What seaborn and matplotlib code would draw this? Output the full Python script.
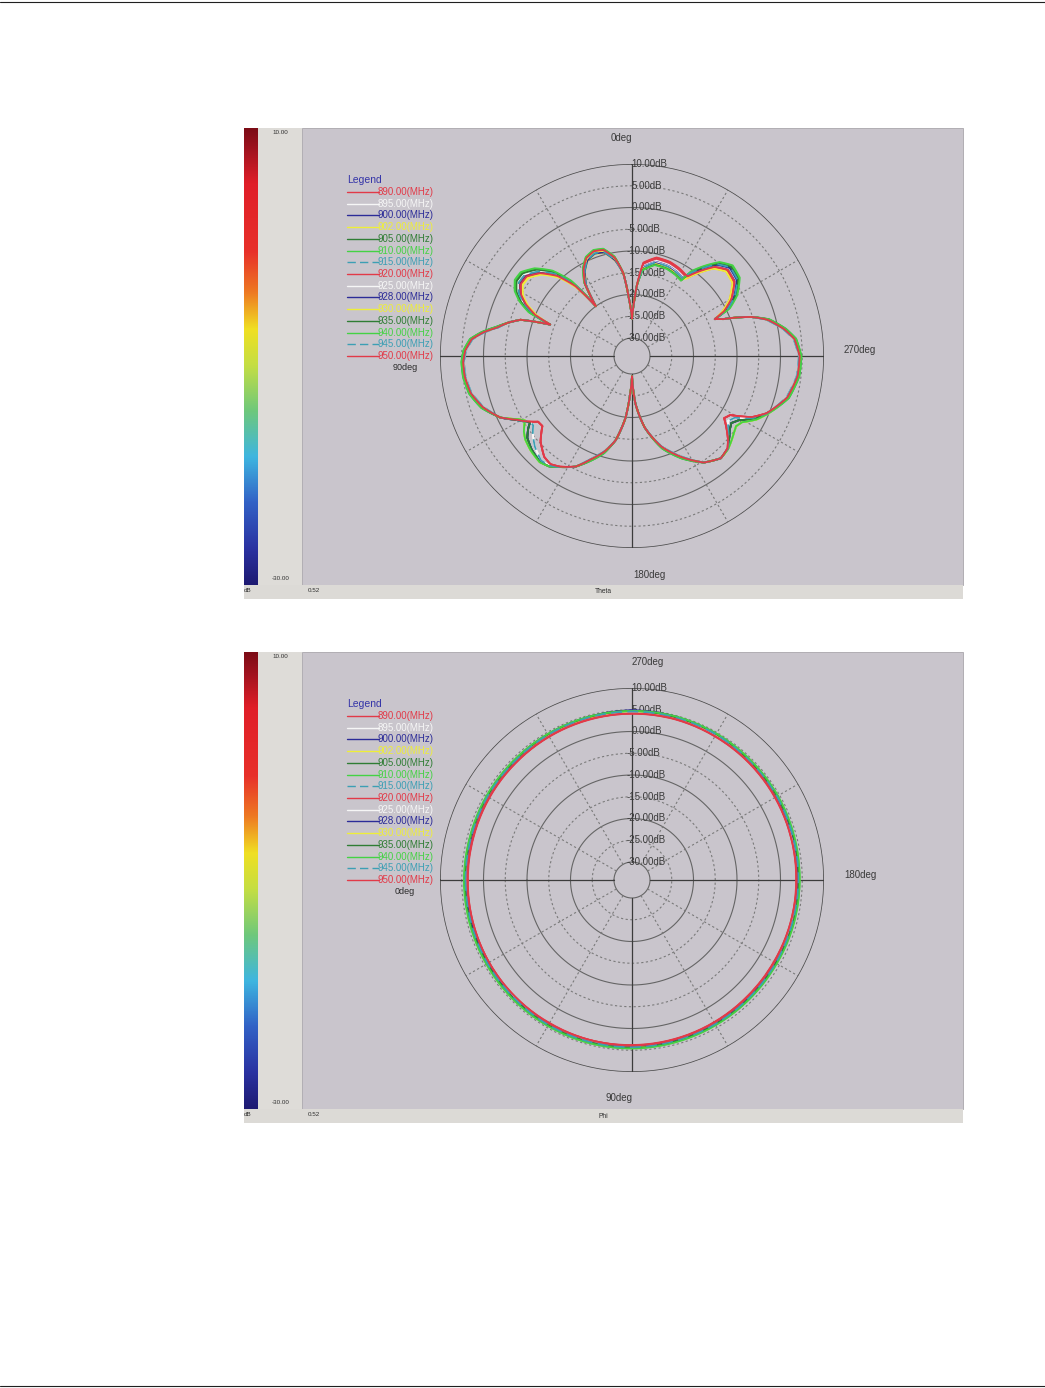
import numpy as np
import pandas as pd
import matplotlib
matplotlib.use("Agg")
import matplotlib.pyplot as plt
from matplotlib.patches import Rectangle
from matplotlib.lines import Line2D
from matplotlib.colors import LinearSegmentedColormap
import seaborn as sns

sns.set_style("white")
plt.rcParams['font.family'] = ['Liberation Sans', 'DejaVu Sans']

W, H = 1045, 1388

# ---------------- data ----------------
freq_labels = ["890.00(MHz)", "895.00(MHz)", "900.00(MHz)", "902.00(MHz)", "905.00(MHz)",
               "910.00(MHz)", "915.00(MHz)", "920.00(MHz)", "925.00(MHz)", "928.00(MHz)",
               "930.00(MHz)", "935.00(MHz)", "940.00(MHz)", "945.00(MHz)", "950.00(MHz)"]

RED, WHITE, NAVY, YELLOW = "#e23a48", "#f6f6f6", "#2c2c98", "#eeee38"
DGREEN, GREEN, TEAL = "#2f7d34", "#44d244", "#3c9fb4"
series_colors = [RED, WHITE, NAVY, YELLOW, DGREEN, GREEN, TEAL,
                 RED, WHITE, NAVY, YELLOW, DGREEN, GREEN, TEAL, RED]
series_dashed = [False, False, False, False, False, False, True,
                 False, False, False, False, False, False, True, False]

theta_deg = [0, 3, 6, 10, 15, 20, 25, 29, 33, 36, 39, 43, 48, 53, 57, 61, 64, 67, 69, 72,
             75, 78, 81, 84, 88, 92, 97, 103, 109, 115, 119, 121, 123, 125, 128, 133, 139, 143, 147, 153,
             158, 164, 169, 174, 177, 180, 184, 190, 198, 206, 214, 221, 226, 229, 233, 236, 239, 243, 247, 255,
             263, 270, 276, 280, 285, 288, 290, 292, 294, 296, 300, 306, 312, 317, 321, 325, 327, 332, 338, 346,
             353, 356, 358, 360]

theta_db_890 = [-25.5, -21.0, -15.0, -11.2, -8.9, -8.5, -9.3, -11.2, -14.2, -20.0, -13.6, -9.1, -5.8, -3.9, -3.8, -5.1, -7.1, -10.1, -14.0, -7.2, -4.6, -2.3, 0.7, 3.1, 4.4, 4.9, 4.8, 4.1, 2.3, -0.7, -3.9, -5.1, -6.4, -7.8, -8.0, -5.4, -3.4, -3.0, -3.8, -5.6, -8.2, -11.1, -14.4, -19.8, -25.0, -29.5, -23.3, -17.5, -12.0, -8.1, -4.6, -3.0, -3.6, -4.9, -7.0, -8.6, -7.8, -3.2, -0.5, 3.0, 4.4, 4.6, 3.6, 1.6, -1.7, -5.1, -8.2, -11.5, -13.3, -11.1, -8.2, -5.5, -5.0, -6.6, -9.4, -12.3, -11.8, -11.3, -10.9, -10.9, -12.6, -17.8, -22.0, -25.5]
theta_db_895 = [-25.5, -21.0, -15.0, -11.5, -9.2, -8.8, -9.6, -11.5, -14.5, -20.0, -13.3, -8.8, -5.5, -3.6, -3.5, -4.8, -6.8, -9.8, -14.0, -7.2, -4.6, -2.2, 0.8, 3.2, 4.5, 5.0, 4.9, 4.2, 2.4, -0.7, -3.8, -5.0, -6.3, -6.4, -5.2, -3.6, -2.3, -2.6, -3.7, -5.6, -8.1, -11.0, -14.4, -19.8, -25.0, -29.5, -23.3, -17.5, -11.9, -8.0, -4.6, -3.0, -3.5, -4.7, -6.5, -7.5, -6.6, -2.8, -0.4, 3.1, 4.5, 4.7, 3.7, 1.7, -1.6, -5.1, -8.2, -11.5, -13.3, -10.7, -7.8, -5.1, -4.6, -6.2, -9.0, -11.9, -12.5, -12.0, -11.6, -11.6, -13.3, -17.8, -22.0, -25.5]
theta_db_900 = [-25.5, -21.0, -15.0, -11.7, -9.4, -9.0, -9.8, -11.7, -14.7, -20.0, -13.0, -8.5, -5.2, -3.3, -3.2, -4.5, -6.5, -9.5, -14.0, -7.2, -4.6, -2.6, 0.4, 2.8, 4.1, 4.6, 4.5, 3.8, 2.0, -0.7, -3.8, -5.0, -6.2, -5.0, -3.6, -2.6, -1.9, -2.4, -3.7, -5.6, -8.5, -11.4, -14.4, -19.8, -25.0, -29.5, -23.3, -17.5, -12.3, -8.4, -4.6, -3.0, -3.5, -4.6, -6.0, -6.6, -5.5, -2.5, -0.4, 2.7, 4.1, 4.3, 3.3, 1.3, -2.0, -5.1, -8.2, -11.5, -13.3, -10.5, -7.6, -4.9, -4.4, -6.0, -8.8, -11.7, -12.7, -12.2, -11.8, -11.8, -13.5, -17.8, -22.0, -25.5]
theta_db_902 = [-25.5, -21.0, -15.0, -11.9, -9.6, -9.2, -10.0, -11.9, -14.9, -20.0, -13.8, -9.3, -6.0, -4.1, -4.0, -5.3, -7.3, -10.3, -14.0, -7.2, -4.6, -2.3, 0.7, 3.1, 4.4, 4.9, 4.8, 4.1, 2.3, -0.7, -4.2, -5.4, -4.6, -3.8, -3.0, -2.3, -1.8, -2.4, -3.7, -5.6, -8.2, -11.1, -14.4, -19.8, -25.0, -29.5, -23.3, -17.5, -12.0, -8.1, -4.6, -3.0, -3.4, -4.0, -4.8, -5.3, -4.6, -2.0, -0.2, 3.0, 4.4, 4.6, 3.6, 1.6, -1.7, -5.1, -8.2, -11.5, -13.3, -10.9, -8.0, -5.3, -4.8, -6.4, -9.2, -12.1, -13.0, -12.5, -12.1, -12.1, -13.8, -17.8, -22.0, -25.5]
theta_db_905 = [-25.5, -21.0, -15.0, -11.3, -9.0, -8.6, -9.4, -11.3, -14.3, -20.0, -12.5, -8.0, -4.7, -2.8, -2.7, -4.0, -6.0, -9.0, -14.0, -7.2, -4.6, -2.5, 0.5, 2.9, 4.2, 4.7, 4.6, 3.9, 2.1, -0.7, -3.8, -5.0, -6.2, -5.0, -3.6, -2.6, -1.9, -2.4, -3.7, -5.6, -8.4, -11.3, -14.4, -19.8, -25.0, -29.5, -23.3, -17.5, -12.2, -8.3, -4.6, -3.0, -3.5, -4.6, -6.0, -6.6, -5.5, -2.5, -0.4, 2.8, 4.2, 4.4, 3.4, 1.4, -1.9, -5.1, -8.2, -11.5, -13.3, -9.9, -7.0, -4.3, -3.8, -5.4, -8.2, -11.1, -13.2, -12.7, -12.3, -12.3, -14.0, -17.8, -22.0, -25.5]
theta_db_910 = [-25.5, -21.0, -15.0, -11.0, -8.7, -8.3, -9.1, -11.0, -14.0, -20.0, -12.0, -7.5, -4.2, -2.3, -2.2, -3.5, -5.5, -8.5, -14.0, -7.2, -4.6, -2.1, 0.9, 3.3, 4.6, 5.1, 5.0, 4.3, 2.5, -0.7, -4.2, -5.4, -4.6, -3.8, -3.0, -2.3, -1.8, -2.4, -3.7, -5.6, -8.0, -10.9, -14.4, -19.8, -25.0, -29.5, -23.3, -17.5, -11.8, -7.9, -4.6, -3.0, -3.4, -4.0, -4.8, -5.3, -4.6, -2.0, -0.2, 3.2, 4.6, 4.8, 3.8, 1.8, -1.5, -5.1, -8.2, -11.5, -13.3, -9.3, -6.4, -3.7, -3.2, -4.8, -7.6, -10.5, -13.3, -12.8, -12.4, -12.4, -14.1, -17.8, -22.0, -25.5]
theta_db_915 = [-25.5, -21.0, -15.0, -11.5, -9.2, -8.8, -9.6, -11.5, -14.5, -20.0, -12.8, -8.3, -5.0, -3.1, -3.0, -4.3, -6.3, -9.3, -14.0, -7.2, -4.6, -2.7, 0.3, 2.7, 4.0, 4.5, 4.4, 3.7, 1.9, -0.7, -3.8, -5.0, -6.2, -5.0, -3.6, -2.6, -1.9, -2.4, -3.7, -5.6, -8.6, -11.5, -14.4, -19.8, -25.0, -29.5, -23.3, -17.5, -12.4, -8.5, -4.6, -3.0, -3.5, -4.6, -6.0, -6.6, -5.5, -2.5, -0.4, 2.6, 4.0, 4.2, 3.2, 1.2, -2.1, -5.1, -8.2, -11.5, -13.3, -10.3, -7.4, -4.7, -4.2, -5.8, -8.6, -11.5, -13.0, -12.5, -12.1, -12.1, -13.8, -17.8, -22.0, -25.5]
theta_db_920 = [-25.5, -21.0, -15.0, -11.3, -9.0, -8.6, -9.4, -11.3, -14.3, -20.0, -13.2, -8.7, -5.4, -3.5, -3.4, -4.7, -6.7, -9.7, -14.0, -7.2, -4.6, -2.3, 0.7, 3.1, 4.4, 4.9, 4.8, 4.1, 2.3, -0.7, -3.9, -5.1, -6.4, -7.8, -8.0, -5.4, -3.4, -3.0, -3.8, -5.6, -8.2, -11.1, -14.4, -19.8, -25.0, -29.5, -23.3, -17.5, -12.0, -8.1, -4.6, -3.0, -3.6, -4.9, -7.0, -8.6, -7.8, -3.2, -0.5, 3.0, 4.4, 4.6, 3.6, 1.6, -1.7, -5.1, -8.2, -11.5, -13.3, -10.8, -7.9, -5.2, -4.7, -6.3, -9.1, -12.0, -12.0, -11.5, -11.1, -11.1, -12.8, -17.8, -22.0, -25.5]
theta_db_925 = [-25.5, -21.0, -15.0, -11.6, -9.3, -8.9, -9.7, -11.6, -14.6, -20.0, -12.7, -8.2, -4.9, -3.0, -2.9, -4.2, -6.2, -9.2, -14.0, -7.2, -4.6, -2.6, 0.4, 2.8, 4.1, 4.6, 4.5, 3.8, 2.0, -0.7, -3.8, -5.0, -6.3, -6.4, -5.2, -3.6, -2.3, -2.6, -3.7, -5.6, -8.5, -11.4, -14.4, -19.8, -25.0, -29.5, -23.3, -17.5, -12.3, -8.4, -4.6, -3.0, -3.5, -4.7, -6.5, -7.5, -6.6, -2.8, -0.4, 2.7, 4.1, 4.3, 3.3, 1.3, -2.0, -5.1, -8.2, -11.5, -13.3, -10.1, -7.2, -4.5, -4.0, -5.6, -8.4, -11.3, -12.8, -12.3, -11.9, -11.9, -13.6, -17.8, -22.0, -25.5]
theta_db_928 = [-25.5, -21.0, -15.0, -11.8, -9.5, -9.1, -9.9, -11.8, -14.8, -20.0, -13.4, -8.9, -5.6, -3.7, -3.6, -4.9, -6.9, -9.9, -14.0, -7.2, -4.6, -2.2, 0.8, 3.2, 4.5, 5.0, 4.9, 4.2, 2.4, -0.7, -3.8, -5.0, -6.2, -5.0, -3.6, -2.6, -1.9, -2.4, -3.7, -5.6, -8.1, -11.0, -14.4, -19.8, -25.0, -29.5, -23.3, -17.5, -11.9, -8.0, -4.6, -3.0, -3.5, -4.6, -6.0, -6.6, -5.5, -2.5, -0.4, 3.1, 4.5, 4.7, 3.7, 1.7, -1.6, -5.1, -8.2, -11.5, -13.3, -10.0, -7.1, -4.4, -3.9, -5.5, -8.3, -11.2, -13.0, -12.5, -12.1, -12.1, -13.8, -17.8, -22.0, -25.5]
theta_db_930 = [-25.5, -21.0, -15.0, -11.4, -9.1, -8.7, -9.5, -11.4, -14.4, -20.0, -14.0, -9.5, -6.2, -4.3, -4.2, -5.5, -7.5, -10.5, -14.0, -7.2, -4.6, -2.4, 0.6, 3.0, 4.3, 4.8, 4.7, 4.0, 2.2, -0.7, -4.2, -5.4, -4.6, -3.8, -3.0, -2.3, -1.8, -2.4, -3.7, -5.6, -8.3, -11.2, -14.4, -19.8, -25.0, -29.5, -23.3, -17.5, -12.1, -8.2, -4.6, -3.0, -3.4, -4.0, -4.8, -5.3, -4.6, -2.0, -0.2, 2.9, 4.3, 4.5, 3.5, 1.5, -1.8, -5.1, -8.2, -11.5, -13.3, -11.2, -8.3, -5.6, -5.1, -6.7, -9.5, -12.4, -13.2, -12.7, -12.3, -12.3, -14.0, -17.8, -22.0, -25.5]
theta_db_935 = [-25.5, -21.0, -15.0, -11.1, -8.8, -8.4, -9.2, -11.1, -14.1, -20.0, -12.3, -7.8, -4.5, -2.6, -2.5, -3.8, -5.8, -8.8, -14.0, -7.2, -4.6, -2.5, 0.5, 2.9, 4.2, 4.7, 4.6, 3.9, 2.1, -0.7, -3.8, -5.0, -6.2, -5.0, -3.6, -2.6, -1.9, -2.4, -3.7, -5.6, -8.4, -11.3, -14.4, -19.8, -25.0, -29.5, -23.3, -17.5, -12.2, -8.3, -4.6, -3.0, -3.5, -4.6, -6.0, -6.6, -5.5, -2.5, -0.4, 2.8, 4.2, 4.4, 3.4, 1.4, -1.9, -5.1, -8.2, -11.5, -13.3, -9.6, -6.7, -4.0, -3.5, -5.1, -7.9, -10.8, -13.4, -12.9, -12.5, -12.5, -14.2, -17.8, -22.0, -25.5]
theta_db_940 = [-25.5, -21.0, -15.0, -10.9, -8.6, -8.2, -9.0, -10.9, -13.9, -20.0, -11.8, -7.3, -4.0, -2.1, -2.0, -3.3, -5.3, -8.3, -14.0, -7.2, -4.6, -2.1, 0.9, 3.3, 4.6, 5.1, 5.0, 4.3, 2.5, -0.7, -4.2, -5.4, -4.6, -3.8, -3.0, -2.3, -1.8, -2.4, -3.7, -5.6, -8.0, -10.9, -14.4, -19.8, -25.0, -29.5, -23.3, -17.5, -11.8, -7.9, -4.6, -3.0, -3.4, -4.0, -4.8, -5.3, -4.6, -2.0, -0.2, 3.2, 4.6, 4.8, 3.8, 1.8, -1.5, -5.1, -8.2, -11.5, -13.3, -9.1, -6.2, -3.5, -3.0, -4.6, -7.4, -10.3, -13.5, -13.0, -12.6, -12.6, -14.3, -17.8, -22.0, -25.5]
theta_db_945 = [-25.5, -21.0, -15.0, -11.7, -9.4, -9.0, -9.8, -11.7, -14.7, -20.0, -12.9, -8.4, -5.1, -3.2, -3.1, -4.4, -6.4, -9.4, -14.0, -7.2, -4.6, -2.6, 0.4, 2.8, 4.1, 4.6, 4.5, 3.8, 2.0, -0.7, -3.8, -5.0, -6.3, -6.4, -5.2, -3.6, -2.3, -2.6, -3.7, -5.6, -8.5, -11.4, -14.4, -19.8, -25.0, -29.5, -23.3, -17.5, -12.3, -8.4, -4.6, -3.0, -3.5, -4.7, -6.5, -7.5, -6.6, -2.8, -0.4, 2.7, 4.1, 4.3, 3.3, 1.3, -2.0, -5.1, -8.2, -11.5, -13.3, -9.8, -6.9, -4.2, -3.7, -5.3, -8.1, -11.0, -12.9, -12.4, -12.0, -12.0, -13.7, -17.8, -22.0, -25.5]
theta_db_950 = [-25.5, -21.0, -15.0, -11.2, -8.9, -8.5, -9.3, -11.2, -14.2, -20.0, -13.5, -9.0, -5.7, -3.8, -3.7, -5.0, -7.0, -10.0, -14.0, -7.2, -4.6, -2.5, 0.5, 2.9, 4.2, 4.7, 4.6, 3.9, 2.1, -0.7, -3.9, -5.1, -6.4, -7.8, -8.0, -5.4, -3.4, -3.0, -3.8, -5.6, -8.4, -11.3, -14.4, -19.8, -25.0, -29.5, -23.3, -17.5, -12.2, -8.3, -4.6, -3.0, -3.6, -4.9, -7.0, -8.6, -7.8, -3.2, -0.5, 2.8, 4.2, 4.4, 3.4, 1.4, -1.9, -5.1, -8.2, -11.5, -13.3, -10.6, -7.7, -5.0, -4.5, -6.1, -8.9, -11.8, -11.7, -11.2, -10.8, -10.8, -12.5, -17.8, -22.0, -25.5]

phi_deg = [0, 15, 30, 45, 60, 75, 90, 105, 120, 135, 150, 165, 180, 195, 210, 225, 240, 255,
           270, 285, 300, 315, 330, 345, 360]

phi_db_890 = [3.6, 3.7, 3.8, 3.9, 3.8, 3.9, 3.8, 3.7, 3.6, 3.5, 3.5, 3.6, 3.6, 3.7, 3.8, 3.9, 4.0, 4.1, 4.1, 4.0, 3.9, 3.8, 3.7, 3.6, 3.6]
phi_db_895 = [4.2, 4.3, 4.2, 4.4, 4.3, 4.4, 4.3, 4.2, 4.2, 4.0, 4.1, 4.1, 4.2, 4.2, 4.4, 4.4, 4.6, 4.6, 4.7, 4.5, 4.5, 4.3, 4.3, 4.1, 4.2]
phi_db_900 = [4.0, 4.1, 4.2, 4.2, 4.3, 4.2, 4.3, 4.1, 4.1, 3.9, 4.0, 4.0, 4.1, 4.1, 4.3, 4.3, 4.5, 4.7, 4.8, 4.6, 4.4, 4.3, 4.1, 4.1, 4.0]
phi_db_902 = [4.3, 4.3, 4.4, 4.4, 4.5, 4.4, 4.4, 4.3, 4.2, 4.2, 4.1, 4.3, 4.3, 4.3, 4.4, 4.5, 4.5, 4.6, 4.6, 4.6, 4.4, 4.4, 4.3, 4.2, 4.3]
phi_db_905 = [4.2, 4.2, 4.3, 4.3, 4.4, 4.3, 4.4, 4.2, 4.2, 4.1, 4.0, 4.2, 4.1, 4.3, 4.3, 4.5, 4.5, 4.7, 4.6, 4.6, 4.5, 4.3, 4.3, 4.2, 4.2]
phi_db_910 = [4.4, 4.4, 4.5, 4.5, 4.5, 4.6, 4.5, 4.4, 4.3, 4.3, 4.2, 4.3, 4.4, 4.4, 4.5, 4.6, 4.7, 4.7, 4.7, 4.6, 4.6, 4.5, 4.4, 4.4, 4.4]
phi_db_915 = [4.1, 4.2, 4.1, 4.3, 4.2, 4.3, 4.2, 4.2, 4.0, 4.0, 3.9, 4.1, 4.0, 4.2, 4.2, 4.4, 4.4, 4.6, 4.5, 4.5, 4.3, 4.3, 4.1, 4.1, 4.1]
phi_db_920 = [3.7, 3.8, 3.8, 3.9, 4.0, 3.9, 3.9, 3.8, 3.7, 3.6, 3.6, 3.7, 3.7, 3.8, 3.9, 4.0, 4.1, 4.2, 4.2, 4.1, 4.0, 3.9, 3.8, 3.7, 3.7]
phi_db_925 = [4.1, 4.2, 4.3, 4.2, 4.4, 4.3, 4.3, 4.3, 4.1, 4.1, 4.0, 4.0, 4.2, 4.1, 4.3, 4.4, 4.5, 4.5, 4.6, 4.5, 4.4, 4.4, 4.2, 4.2, 4.1]
phi_db_928 = [4.2, 4.1, 4.2, 4.3, 4.3, 4.4, 4.2, 4.2, 4.1, 4.0, 4.0, 4.1, 4.1, 4.2, 4.2, 4.4, 4.6, 4.7, 4.9, 4.6, 4.5, 4.3, 4.2, 4.1, 4.2]
phi_db_930 = [4.3, 4.4, 4.4, 4.5, 4.4, 4.5, 4.4, 4.4, 4.3, 4.2, 4.2, 4.2, 4.3, 4.4, 4.4, 4.5, 4.6, 4.6, 4.7, 4.5, 4.5, 4.4, 4.3, 4.3, 4.3]
phi_db_935 = [4.3, 4.3, 4.3, 4.4, 4.4, 4.4, 4.5, 4.3, 4.2, 4.2, 4.1, 4.2, 4.2, 4.3, 4.4, 4.4, 4.6, 4.6, 4.7, 4.6, 4.5, 4.4, 4.3, 4.3, 4.3]
phi_db_940 = [4.5, 4.5, 4.5, 4.6, 4.6, 4.6, 4.6, 4.5, 4.4, 4.3, 4.3, 4.4, 4.4, 4.5, 4.6, 4.6, 4.7, 4.8, 4.7, 4.7, 4.6, 4.5, 4.5, 4.4, 4.5]
phi_db_945 = [4.1, 4.1, 4.2, 4.2, 4.3, 4.3, 4.3, 4.1, 4.1, 4.0, 4.0, 4.0, 4.1, 4.2, 4.3, 4.3, 4.5, 4.5, 4.6, 4.5, 4.4, 4.2, 4.2, 4.1, 4.1]
phi_db_950 = [3.7, 3.7, 3.8, 3.8, 3.9, 3.9, 3.9, 3.8, 3.7, 3.6, 3.6, 3.6, 3.7, 3.7, 3.9, 4.0, 4.0, 4.2, 4.1, 4.1, 4.0, 3.8, 3.8, 3.7, 3.7]

theta_series = [theta_db_890, theta_db_895, theta_db_900, theta_db_902, theta_db_905,
                theta_db_910, theta_db_915, theta_db_920, theta_db_925, theta_db_928,
                theta_db_930, theta_db_935, theta_db_940, theta_db_945, theta_db_950]
phi_series = [phi_db_890, phi_db_895, phi_db_900, phi_db_902, phi_db_905,
              phi_db_910, phi_db_915, phi_db_920, phi_db_925, phi_db_928,
              phi_db_930, phi_db_935, phi_db_940, phi_db_945, phi_db_950]

ring_levels = [10, 5, 0, -5, -10, -15, -20, -25, -30]
ring_labels = ["10.00dB", "5.00dB", "0.00dB", "-5.00dB", "-10.00dB",
               "-15.00dB", "-20.00dB", "-25.00dB", "-30.00dB"]

scale_colors = ["#7c0c16", "#a41420", "#e01e28", "#e8302a", "#ee7a22", "#f0e022",
                "#c4de44", "#6ec87c", "#3eb6e0", "#3262c6", "#2a32a2", "#1e1a72"]
scale_stops = [0.0, 0.05, 0.12, 0.27, 0.36, 0.44, 0.52, 0.62, 0.72, 0.82, 0.92, 1.0]


def long_frame(angles, series):
    rows = []
    for lab, vals in zip(freq_labels, series):
        for a, v in zip(angles, vals):
            rows.append((np.deg2rad(a), v, lab))
    return pd.DataFrame(rows, columns=["theta", "gain", "freq"])


def fx(x):
    return x / W


def fy(y):
    return 1 - y / H


fig = plt.figure(figsize=(W / 100, H / 100), dpi=100)
fig.patch.set_facecolor("white")

# page rules
fig.add_artist(Line2D([0, 1], [fy(1.5), fy(1.5)], transform=fig.transFigure, color="#202020", lw=0.8))
fig.add_artist(Line2D([0, 1], [fy(1385.5), fy(1385.5)], transform=fig.transFigure, color="#202020", lw=0.8))

palette = dict(zip(freq_labels, series_colors))
dash_map = {lab: ((6, 3) if d else "") for lab, d in zip(freq_labels, series_dashed)}
scale_cmap = LinearSegmentedColormap.from_list("scale", list(zip(scale_stops, scale_colors)))


def rect(x0, y0, x1, y1, color, z=-10, ec="none", lw=0):
    fig.add_artist(Rectangle((fx(x0), fy(y1)), fx(x1) - fx(x0), fy(y0) - fy(y1),
                             transform=fig.transFigure, facecolor=color,
                             edgecolor=ec, lw=lw, zorder=z))


def panel(oy, df, zero_loc, top_theta_deg, axis_name, angle_texts, hidden_text):
    # backgrounds
    rect(258, 128 + oy, 302, 585 + oy, "#dedcd8")
    rect(302, 128 + oy, 963, 585 + oy, "#c9c5cc", ec="#a9a6ab", lw=0.6)
    rect(244, 585 + oy, 963, 599 + oy, "#dcdad6")
    # colour scale
    cax = fig.add_axes([fx(244), fy(585 + oy), fx(258) - fx(244), fy(128 + oy) - fy(585 + oy)])
    grad = np.linspace(0, 1, 256).reshape(-1, 1)
    cax.imshow(grad, aspect="auto", cmap=scale_cmap)
    cax.set_axis_off()
    fig.text(fx(280), fy(133 + oy), "10.00", fontsize=4.5, ha="center", va="center", color="#303030")
    fig.text(fx(281), fy(578 + oy), "-30.00", fontsize=4.5, ha="center", va="center", color="#303030")
    fig.text(fx(248), fy(591 + oy), "dB", fontsize=4.5, ha="center", va="center", color="#303030")
    fig.text(fx(314), fy(591 + oy), "0.52", fontsize=4.5, ha="center", va="center", color="#303030")
    fig.text(fx(603), fy(592 + oy), axis_name, fontsize=4.8, ha="center", va="center", color="#303030")

    # polar plot
    cx, cy, R = 632, 356 + oy, 192
    ax = fig.add_axes([fx(cx - R), fy(cy + R), fx(cx + R) - fx(cx - R), fy(cy - R) - fy(cy + R)],
                      projection="polar")
    ax.set_theta_zero_location(zero_loc)
    ax.set_theta_direction(1)
    ax.patch.set_visible(False)
    ax.grid(False)
    ax.spines["polar"].set_visible(False)

    tt = np.linspace(0, 2 * np.pi, 721)
    for lev in ring_levels:
        if lev == 10:
            ax.plot(tt, np.full_like(tt, lev), color="#4a4a4a", lw=1.1, zorder=1)
        elif lev % 10 == 0:
            ax.plot(tt, np.full_like(tt, lev), color="#656565", lw=0.8, zorder=1)
        else:
            ax.plot(tt, np.full_like(tt, lev), color="#7a7a7a", lw=0.8, ls=(0, (2, 2.2)), zorder=1)
    for a in range(0, 360, 30):
        th = np.deg2rad(a)
        if a % 90 == 0:
            ax.plot([th, th], [-30, 10], color="#3c3c3c", lw=0.9, zorder=1)
        else:
            ax.plot([th, th], [-30, 10], color="#7a7a7a", lw=0.8, ls=(0, (2, 2.2)), zorder=1)

    top = np.deg2rad(top_theta_deg)
    for lev, lab in zip(ring_levels, ring_labels):
        off = -4.2 if lab.startswith("-") else -0.6
        ax.annotate(lab, xy=(top, lev), xytext=(off, 0), textcoords="offset points",
                    ha="left", va="center", fontsize=7, color="#3a3a3a", zorder=1.5)

    sns.lineplot(data=df, x="theta", y="gain", hue="freq", style="freq",
                 hue_order=freq_labels, style_order=freq_labels, palette=palette,
                 dashes=dash_map, sort=False, estimator=None, legend=False,
                 linewidth=1.3, ax=ax)
    for ln in ax.get_lines()[-len(freq_labels):]:
        try:
            ln.get_path()._interpolation_steps = 6
        except Exception:
            pass
        ln.set_zorder(2)

    ax.set_ylim(-34.14, 10)
    ax.set_xticks([])
    ax.set_yticks([])
    ax.set_xlabel("")
    ax.set_ylabel("")

    for txt, (x, y) in angle_texts:
        fig.text(fx(x), fy(y + oy), txt, fontsize=7, ha="center", va="center", color="#3a3a3a")
    fig.text(fx(hidden_text[1][0]), fy(hidden_text[1][1] + oy), hidden_text[0], fontsize=6.5,
             ha="center", va="center", color="#2a2a2a")

    # legend
    fig.text(fx(347), fy(180 + oy), "Legend", fontsize=7.5, ha="left", va="center", color="#3434a8")
    for i, lab in enumerate(freq_labels):
        y = 192 + 11.72 * i + oy
        ls = (0, (6, 3)) if series_dashed[i] else "-"
        fig.add_artist(Line2D([fx(347), fx(379)], [fy(y), fy(y)], transform=fig.transFigure,
                              color=series_colors[i], lw=1.0, ls=ls))
        fig.text(fx(378), fy(y), lab, fontsize=7, ha="left", va="center", color=series_colors[i])


df_theta = long_frame(theta_deg, theta_series)
df_phi = long_frame(phi_deg, phi_series)

panel(0, df_theta, "N", 0, "Theta",
      [("0deg", (621, 138)), ("270deg", (860, 350)), ("180deg", (649, 575))],
      ("90deg", (405, 368)))
panel(524, df_phi, "W", 270, "Phi",
      [("270deg", (648, 138)), ("180deg", (860, 351)), ("90deg", (619, 574))],
      ("0deg", (405, 368)))

fig.savefig("out.png", dpi=100, facecolor="white")
